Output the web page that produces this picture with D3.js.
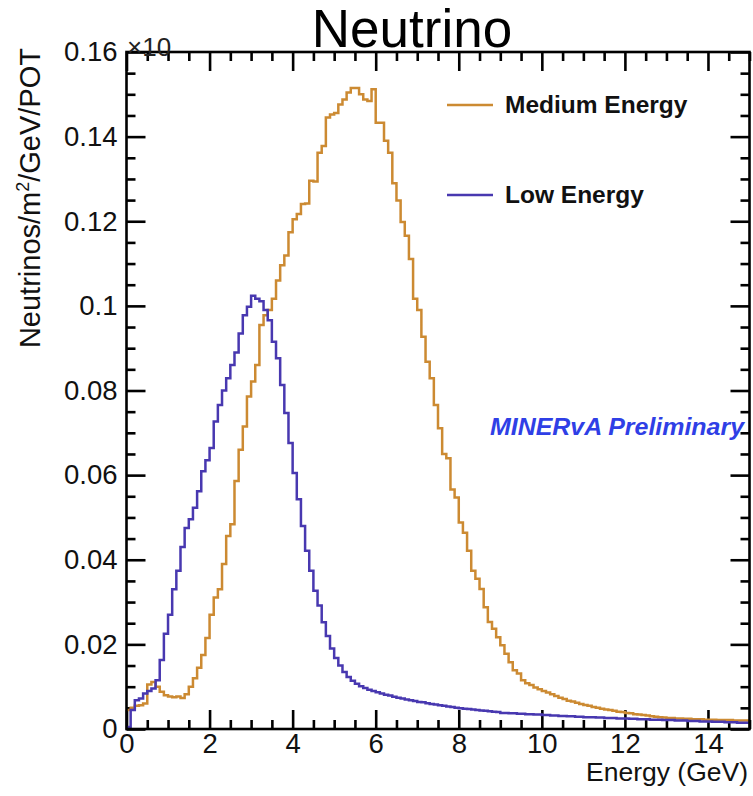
<!DOCTYPE html>
<html>
<head>
<meta charset="utf-8">
<script src="https://cdn.jsdelivr.net/npm/d3@7"></script>
<style>
  html, body { margin: 0; padding: 0; background: #fff; }
  svg { display: block; font-family: "Liberation Sans", Arial, Helvetica, sans-serif; }
</style>
</head>
<body>
<svg id="chart" width="753" height="796"></svg>
<script>
// ---------------- DATA ----------------
const binWidth = 0.1;          // GeV
const binStart = 0;            // GeV
const yTickValues = [0, 0.02, 0.04, 0.06, 0.08, 0.1, 0.12, 0.14, 0.16];
const yTickLabels = ["0", "0.02", "0.04", "0.06", "0.08", "0.1", "0.12", "0.14", "0.16"];
const xTickValues = [0, 2, 4, 6, 8, 10, 12, 14];
const xTickLabels = ["0", "2", "4", "6", "8", "10", "12", "14"];
const seriesNames = ["Medium Energy", "Low Energy"];

// Medium Energy flux, 150 bins of 0.1 GeV (0-15 GeV)
const mediumEnergy = [
  0.0045, 0.0050, 0.0055, 0.0056, 0.0060, 0.0105, 0.0111, 0.0100, 0.0088, 0.0080,
  0.0077, 0.0075, 0.0077, 0.0073, 0.0082, 0.0100, 0.0120, 0.0145, 0.0175, 0.0215,
  0.0270, 0.0311, 0.0330, 0.0390, 0.0456, 0.0484, 0.0586, 0.0660, 0.0715, 0.0786,
  0.0821, 0.0860, 0.0955, 0.0978, 0.0990, 0.1017, 0.1060, 0.1096, 0.1119, 0.1174,
  0.1205, 0.1217, 0.1241, 0.1242, 0.1296, 0.1294, 0.1362, 0.1378, 0.1445, 0.1452,
  0.1456, 0.1476, 0.1488, 0.1504, 0.1515, 0.1515, 0.1500, 0.1488, 0.1484, 0.1512,
  0.1433, 0.1433, 0.1390, 0.1362, 0.1290, 0.1249, 0.1198, 0.1166, 0.1111, 0.1017,
  0.0990, 0.0927, 0.0868, 0.0829, 0.0766, 0.0711, 0.0650, 0.0640, 0.0566, 0.0547,
  0.0488, 0.0464, 0.0421, 0.0374, 0.0355, 0.0331, 0.0288, 0.0253, 0.0237, 0.0217,
  0.0198, 0.0178, 0.0158, 0.0139, 0.0131, 0.0115, 0.0108, 0.0104, 0.0098, 0.0094,
  0.0090, 0.0086, 0.0082, 0.0078, 0.0074, 0.0071, 0.0067, 0.0065, 0.0062, 0.0059,
  0.0057, 0.0055, 0.0052, 0.0050, 0.0048, 0.0046, 0.0045, 0.0043, 0.0041, 0.0040,
  0.0038, 0.0037, 0.0035, 0.0034, 0.0033, 0.0032, 0.0030, 0.0029, 0.0028, 0.0027,
  0.0026, 0.0026, 0.0025, 0.0025, 0.0024, 0.0024, 0.0023, 0.0023, 0.0023, 0.0022,
  0.0022, 0.0022, 0.0021, 0.0021, 0.0021, 0.0021, 0.0020, 0.0020, 0.0020, 0.0020
];

// Low Energy flux, 150 bins of 0.1 GeV (0-15 GeV)
const lowEnergy = [
  0.0005, 0.0045, 0.0068, 0.0072, 0.0084, 0.0090, 0.0096, 0.0115, 0.0163, 0.0225,
  0.0270, 0.0330, 0.0374, 0.0430, 0.0475, 0.0496, 0.0523, 0.0562, 0.0609, 0.0635,
  0.0664, 0.0727, 0.0766, 0.0800, 0.0829, 0.0860, 0.0890, 0.0935, 0.0978, 0.0998,
  0.1024, 0.1017, 0.1011, 0.0990, 0.0966, 0.0915, 0.0876, 0.0813, 0.0747, 0.0676,
  0.0605, 0.0543, 0.0480, 0.0421, 0.0374, 0.0327, 0.0292, 0.0252, 0.0220, 0.0190,
  0.0168, 0.0150, 0.0135, 0.0123, 0.0114, 0.0107, 0.0101, 0.0097, 0.0093, 0.0090,
  0.0087, 0.0084, 0.0081, 0.0079, 0.0076, 0.0074, 0.0072, 0.0070, 0.0068, 0.0066,
  0.0064, 0.0063, 0.0061, 0.0059, 0.0058, 0.0056, 0.0055, 0.0053, 0.0052, 0.0050,
  0.0049, 0.0048, 0.0047, 0.0046, 0.0045, 0.0044, 0.0043, 0.0042, 0.0041, 0.0040,
  0.0038, 0.0038, 0.0037, 0.0037, 0.0036, 0.0036, 0.0035, 0.0035, 0.0034, 0.0034,
  0.0033, 0.0033, 0.0032, 0.0032, 0.0031, 0.0031, 0.0030, 0.0030, 0.0029, 0.0029,
  0.0028, 0.0028, 0.0028, 0.0027, 0.0027, 0.0026, 0.0026, 0.0026, 0.0025, 0.0025,
  0.0025, 0.0024, 0.0024, 0.0023, 0.0023, 0.0023, 0.0022, 0.0022, 0.0022, 0.0021,
  0.0021, 0.0021, 0.0020, 0.0020, 0.0020, 0.0019, 0.0019, 0.0019, 0.0018, 0.0018,
  0.0018, 0.0017, 0.0017, 0.0017, 0.0016, 0.0016, 0.0016, 0.0015, 0.0015, 0.0015
];

// ---------------- LAYOUT ----------------
const colors = { medium: "#cc8a32", low: "#4838b0" };
const frame = { left: 126.5, right: 749.5, top: 52, bottom: 729 };

const svg = d3.select("#chart");

const x = d3.scaleLinear().domain([0, 15]).range([frame.left, frame.right]);
const y = d3.scaleLinear().domain([0, 0.16]).range([frame.bottom, frame.top]);

const xMinor = d3.range(0, 15.001, 0.5).filter(v => Math.abs(v / 2 - Math.round(v / 2)) > 1e-6);
const yMinor = d3.range(0, 0.1601, 0.005).filter(v => Math.abs(v / 0.02 - Math.round(v / 0.02)) > 1e-6);

const tickFont = 27.5;
const axisStroke = 2.6;

function styleAxis(g) {
  g.select(".domain").remove();
  g.selectAll(".tick line").attr("stroke", "#000").attr("stroke-width", axisStroke);
  g.selectAll("text").attr("font-size", tickFont).attr("fill", "#111")
    .attr("font-family", "'Liberation Sans', Arial, sans-serif");
}

// Bottom axis (labels) + top axis (ticks only)
svg.append("g").attr("transform", `translate(0,${frame.bottom})`)
  .call(d3.axisBottom(x).tickValues(xTickValues).tickSize(-19).tickPadding(4)
    .tickFormat((d, i) => xTickLabels[i]))
  .call(styleAxis)
  .selectAll("text").attr("dy", "0.72em");
svg.append("g").attr("transform", `translate(0,${frame.bottom})`)
  .call(d3.axisBottom(x).tickValues(xMinor).tickSize(-9).tickFormat(""))
  .call(styleAxis);
svg.append("g").attr("transform", `translate(0,${frame.top})`)
  .call(d3.axisTop(x).tickValues(xTickValues).tickSize(-19).tickFormat(""))
  .call(styleAxis);
svg.append("g").attr("transform", `translate(0,${frame.top})`)
  .call(d3.axisTop(x).tickValues(xMinor).tickSize(-9).tickFormat(""))
  .call(styleAxis);

// Left axis (labels) + right axis (ticks only)
svg.append("g").attr("transform", `translate(${frame.left},0)`)
  .call(d3.axisLeft(y).tickValues(yTickValues).tickSize(-19).tickPadding(9)
    .tickFormat((d, i) => yTickLabels[i]))
  .call(styleAxis);
svg.append("g").attr("transform", `translate(${frame.left},0)`)
  .call(d3.axisLeft(y).tickValues(yMinor).tickSize(-9).tickFormat(""))
  .call(styleAxis);
svg.append("g").attr("transform", `translate(${frame.right},0)`)
  .call(d3.axisRight(y).tickValues(yTickValues).tickSize(-19).tickFormat(""))
  .call(styleAxis);
svg.append("g").attr("transform", `translate(${frame.right},0)`)
  .call(d3.axisRight(y).tickValues(yMinor).tickSize(-9).tickFormat(""))
  .call(styleAxis);

// Histograms drawn as step lines
function histPoints(vals) {
  const pts = vals.map((v, i) => [binStart + i * binWidth, v]);
  pts.push([binStart + vals.length * binWidth, vals[vals.length - 1]]);
  return pts;
}
const stepLine = d3.line()
  .x(d => x(d[0]))
  .y(d => y(d[1]))
  .curve(d3.curveStepAfter);

svg.append("path").datum(histPoints(mediumEnergy))
  .attr("d", stepLine).attr("fill", "none")
  .attr("stroke", colors.medium).attr("stroke-width", 2.5).attr("stroke-linejoin", "miter");
svg.append("path").datum(histPoints(lowEnergy))
  .attr("d", stepLine).attr("fill", "none")
  .attr("stroke", colors.low).attr("stroke-width", 2.5).attr("stroke-linejoin", "miter");

// Frame
svg.append("rect")
  .attr("x", frame.left).attr("y", frame.top)
  .attr("width", frame.right - frame.left).attr("height", frame.bottom - frame.top)
  .attr("fill", "none").attr("stroke", "#000").attr("stroke-width", axisStroke);

// Title
svg.append("text").attr("x", 412).attr("y", 47).attr("text-anchor", "middle")
  .attr("font-size", 53).attr("fill", "#000").text("Neutrino");

// Exponent label, partially hidden under the title band
svg.append("clipPath").attr("id", "expClip")
  .append("rect").attr("x", 100).attr("y", 37).attr("width", 120).attr("height", 20);
svg.append("text").attr("x", 127).attr("y", 56).attr("clip-path", "url(#expClip)")
  .attr("font-size", 26).attr("fill", "#222").text("×10");

// Axis titles
svg.append("text")
  .attr("transform", `translate(40,${frame.top - 4}) rotate(-90)`)
  .attr("text-anchor", "end").attr("font-size", 29).attr("fill", "#111")
  .call(t => {
    t.append("tspan").text("Neutrinos/m");
    t.append("tspan").attr("font-size", 18).attr("dy", -11).text("2");
    t.append("tspan").attr("dy", 11).text("/GeV/POT");
  });
svg.append("text").attr("x", 748).attr("y", 781).attr("text-anchor", "end")
  .attr("font-size", 26.5).attr("fill", "#111").text("Energy (GeV)");

// Legend
const legend = [
  { name: seriesNames[0], color: colors.medium, y: 105 },
  { name: seriesNames[1], color: colors.low, y: 195 }
];
legend.forEach(d => {
  svg.append("line").attr("x1", 447).attr("x2", 493).attr("y1", d.y).attr("y2", d.y)
    .attr("stroke", d.color).attr("stroke-width", 2.5);
  svg.append("text").attr("x", 505).attr("y", d.y + 8).attr("font-size", 24.5)
    .attr("font-weight", "bold").attr("fill", "#111").text(d.name);
});

// Preliminary tag
svg.append("text").attr("x", 490).attr("y", 435).attr("font-size", 24)
  .attr("font-weight", "bold").attr("font-style", "italic").attr("fill", "#2f3fe6")
  .attr("textLength", 254).attr("lengthAdjust", "spacingAndGlyphs")
  .text("MINERvA Preliminary");
</script>
</body>
</html>
